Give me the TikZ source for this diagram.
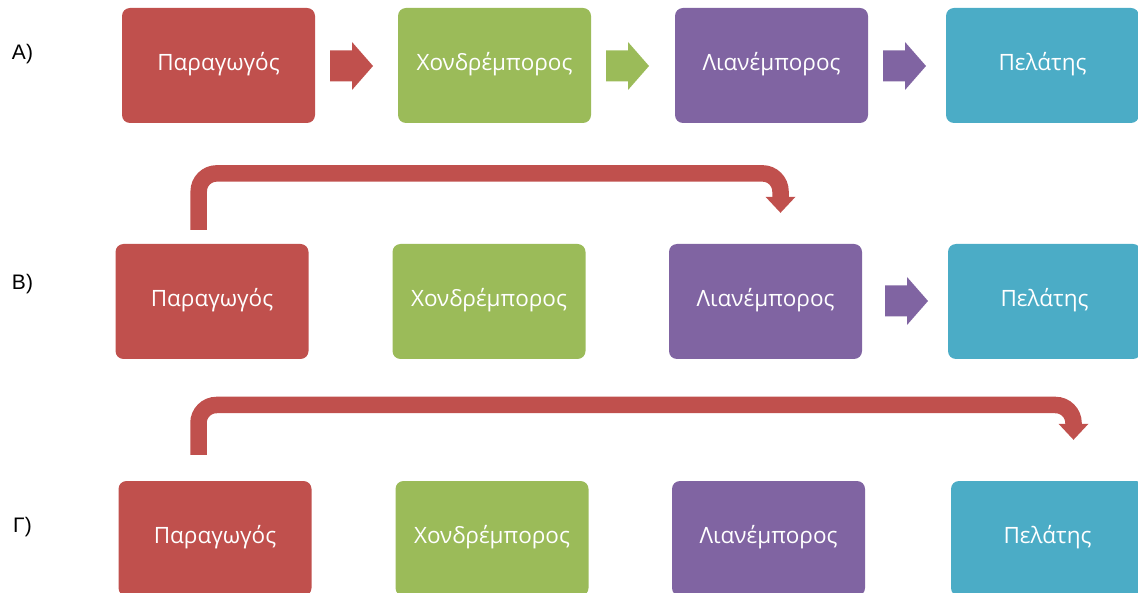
\documentclass[tikz,border=0pt]{standalone}
\usepackage{fontspec}
\setmainfont{Open Sans}
\newfontfamily\labelfont{Liberation Sans}
\usetikzlibrary{arrows.meta,calc}

\definecolor{cred}{HTML}{C0504D}
\definecolor{cgreen}{HTML}{9BBB59}
\definecolor{cpurple}{HTML}{8064A2}
\definecolor{cteal}{HTML}{4BACC6}

\tikzset{
  stage/.style={rounded corners=8pt, minimum width=193pt, minimum height=115pt,
    inner sep=0pt, text height=10.4pt, text depth=0pt, text=white,
    font=\fontsize{22.5}{26}\selectfont},
  rowlabel/.style={font=\labelfont\fontsize{21}{24}\selectfont, inner sep=0pt,
    anchor=base},
  blockarrow/.pic={
    \fill[pic actions] (0,-15.5) -- (22,-15.5) -- (22,-24) -- (43,0)
      -- (22,24) -- (22,15.5) -- (0,15.5) -- cycle;
  },
  bypass/.style={draw=cred, line width=16.5pt, rounded corners=18pt,
    -{Triangle[length=16pt, width=30pt, line width=0pt]}},
}

\begin{document}
\begin{tikzpicture}[x=1pt, y=-1pt]
\useasboundingbox (0,0) rectangle (1138,593);

% row labels
\node[rowlabel] (la) at (22.5,60) {Α)};
\node[rowlabel] (lb) at (22.5,290) {Β)};
\node[rowlabel] (lc) at (22.5,532) {Γ)};

% row A: full chain
\node[stage, fill=cred]    (a1) at (218.5,65.5) {Παραγωγός};
\node[stage, fill=cgreen]  (a2) at (494.5,65.5) {Χονδρέμπορος};
\node[stage, fill=cpurple] (a3) at (771.5,65.5) {Λιανέμπορος};
\node[stage, fill=cteal]   (a4) at (1042.5,65.5) {Πελάτης};
\path (330,66) pic[fill=cred]    {blockarrow};
\path (606,66) pic[fill=cgreen]  {blockarrow};
\path (883,66) pic[fill=cpurple] {blockarrow};

% row B: producer straight to retailer
\node[stage, fill=cred]    (b1) at (212,301.5) {Παραγωγός};
\node[stage, fill=cgreen]  (b2) at (489,301.5) {Χονδρέμπορος};
\node[stage, fill=cpurple] (b3) at (765.5,301.5) {Λιανέμπορος};
\node[stage, fill=cteal]   (b4) at (1044.5,301.5) {Πελάτης};
\path (885,301) pic[fill=cpurple] {blockarrow};
\coordinate (bs) at ($(b1.north)+(-13.3,-14)$);
\coordinate (bt) at ($(b3.north)+(15,-31)$);
\coordinate (btop) at (0,173.4);
\draw[bypass] (bs) -- (bs |- btop) -| (bt);

% row C: producer straight to customer
\node[stage, fill=cred]    (c1) at (215,538.5) {Παραγωγός};
\node[stage, fill=cgreen]  (c2) at (492,538.5) {Χονδρέμπορος};
\node[stage, fill=cpurple] (c3) at (768.5,538.5) {Λιανέμπορος};
\node[stage, fill=cteal]   (c4) at (1047.5,538.5) {Πελάτης};
\coordinate (cs) at ($(c1.north)+(-16.5,-26)$);
\coordinate (ct) at ($(c4.north)+(26,-41)$);
\coordinate (ctop) at (0,405);
\draw[bypass] (cs) -- (cs |- ctop) -| (ct);
\end{tikzpicture}
\end{document}
